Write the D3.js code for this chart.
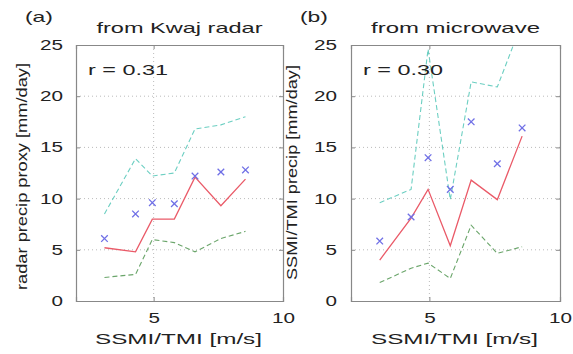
<!DOCTYPE html>
<html><head><meta charset="utf-8">
<script src="https://cdn.jsdelivr.net/npm/d3@7"></script>
<style>
body{margin:0;background:#fff;}
text{font-family:"Liberation Sans",Arial,Helvetica,sans-serif;fill:#222;}
</style></head>
<body><svg id="c" width="573" height="354"></svg>
<script>
// ---- data ----
const windBins = [3.1, 4.3, 4.95, 5.8, 6.6, 7.6, 8.55];
const radarMean   = [6.1, 8.5, 9.6, 9.5, 12.2, 12.6, 12.8];
const radarMedian = [5.2, 4.8, 8.0, 8.0, 12.1, 9.3, 11.9];
const radarUpper  = [8.5, 13.9, 12.2, 12.5, 16.8, 17.2, 18.0];
const radarLower  = [2.3, 2.6, 6.0, 5.7, 4.8, 6.1, 6.8];
const mwMean   = [5.85, 8.2, 14.0, 10.9, 17.5, 13.4, 16.9];
const mwMedian = [4.0, 8.1, 10.9, 5.4, 11.8, 9.9, 16.1];
const mwUpper  = [9.6, 10.9, 24.6, 9.9, 21.4, 20.9, 27.2];
const mwLower  = [1.8, 3.2, 3.7, 2.2, 7.4, 4.65, 5.3];
const yTicks = [0, 5, 10, 15, 20, 25];
const xTicks = [5, 10];
const xLabel = "SSMI/TMI [m/s]";

const panels = [
  {tag:"(a)", title:"from Kwaj radar", r:"r = 0.31", ylab:"radar precip proxy [mm/day]",
   mean:radarMean, med:radarMedian, up:radarUpper, lo:radarLower,
   x0:76, x1:283, tagX:25, titleW:166, ylabX:27, ylabC:176.5, ylabW:227, tickGap:9},
  {tag:"(b)", title:"from microwave", r:"r = 0.30", ylab:"SSMI/TMI precip [mm/day]",
   mean:mwMean, med:mwMedian, up:mwUpper, lo:mwLower,
   x0:351, x1:560, tagX:300, titleW:169, ylabX:297, ylabC:172.5, ylabW:215, tickGap:10}
];

const svg = d3.select("#c");
const yTop = 45, yBot = 301;

function stretch(sel, w){ sel.attr("textLength", w).attr("lengthAdjust","spacingAndGlyphs"); }

panels.forEach((p,i)=>{
  const x = d3.scaleLinear().domain([2,10]).range([p.x0,p.x1]);
  const y = d3.scaleLinear().domain([0,25]).range([yBot,yTop]);
  const g = svg.append("g");
  const cid = "clip"+i;
  svg.append("clipPath").attr("id",cid).append("rect")
    .attr("x",p.x0).attr("y",yTop).attr("width",p.x1-p.x0).attr("height",yBot-yTop);

  // grid
  g.selectAll(".gy").data([5,10,15,20]).join("line")
    .attr("x1",p.x0).attr("x2",p.x1).attr("y1",d=>y(d)).attr("y2",d=>y(d))
    .attr("stroke","#aaa").attr("stroke-width",0.8).attr("stroke-dasharray","1,3");
  g.selectAll(".gx").data([5]).join("line")
    .attr("x1",d=>x(d)).attr("x2",d=>x(d)).attr("y1",yTop).attr("y2",yBot)
    .attr("stroke","#aaa").attr("stroke-width",0.8).attr("stroke-dasharray","1,3");

  // axes
  const ax = d3.axisBottom(x).tickValues(xTicks).tickSize(-4).tickPadding(12).tickFormat(d3.format("d"));
  const axT = d3.axisTop(x).tickValues(xTicks).tickSize(-4).tickFormat("");
  const ay = d3.axisLeft(y).tickValues(yTicks).tickSize(-4).tickPadding(p.tickGap+4).tickFormat(d3.format("d"));
  const ayR = d3.axisRight(y).tickValues(yTicks).tickSize(-4).tickFormat("");
  const gx = g.append("g").attr("transform",`translate(0,${yBot})`).call(ax);
  g.append("g").attr("transform",`translate(0,${yTop})`).call(axT);
  const gy = g.append("g").attr("transform",`translate(${p.x0},0)`).call(ay);
  g.append("g").attr("transform",`translate(${p.x1},0)`).call(ayR);
  g.selectAll(".domain").attr("stroke","#888").attr("stroke-width",1.2);
  g.selectAll(".tick line").attr("stroke","#888");
  g.selectAll(".tick text").attr("font-size",14).attr("fill","#333")
    .each(function(d){ stretch(d3.select(this), 11.5*String(d).length); });
  gx.selectAll(".tick text").attr("dy","0.71em");

  // data lines
  const line = d3.line().x((d,j)=>x(windBins[j])).y(d=>y(d));
  const dg = g.append("g").attr("clip-path",`url(#${cid})`);
  dg.append("path").attr("d",line(p.up)).attr("fill","none")
    .attr("stroke","#6ccfc2").attr("stroke-width",1.1).attr("stroke-dasharray","5,3");
  dg.append("path").attr("d",line(p.lo)).attr("fill","none")
    .attr("stroke","#6aa56a").attr("stroke-width",1.1).attr("stroke-dasharray","5,3");
  dg.append("path").attr("d",line(p.med)).attr("fill","none")
    .attr("stroke","#ea5a68").attr("stroke-width",1.3);
  const m = 3.3;
  dg.selectAll(".mk").data(p.mean).join("path")
    .attr("d",(d,j)=>{const cx=x(windBins[j]), cy=y(d);
      return `M${cx-m},${cy-m}L${cx+m},${cy+m}M${cx-m},${cy+m}L${cx+m},${cy-m}`;})
    .attr("stroke","#7070e6").attr("stroke-width",1.3).attr("fill","none");

  // texts
  svg.append("text").attr("x",p.tagX).attr("y",22).attr("font-size",15).text(p.tag).call(stretch,28);
  const cx = (p.x0+p.x1)/2;
  svg.append("text").attr("x",cx).attr("y",33).attr("text-anchor","middle").attr("font-size",15)
    .text(p.title).call(stretch,p.titleW);
  svg.append("text").attr("x",p.x0+12).attr("y",75).attr("font-size",15)
    .text(p.r).call(stretch,80);
  svg.append("text").attr("x",cx-1).attr("y",344).attr("text-anchor","middle").attr("font-size",15)
    .text(xLabel).call(stretch,167);
  svg.append("text").attr("transform",`translate(${p.ylabX},${p.ylabC}) rotate(-90)`)
    .attr("text-anchor","middle").attr("font-size",15).text(p.ylab).call(stretch,p.ylabW);
});
</script></body></html>
